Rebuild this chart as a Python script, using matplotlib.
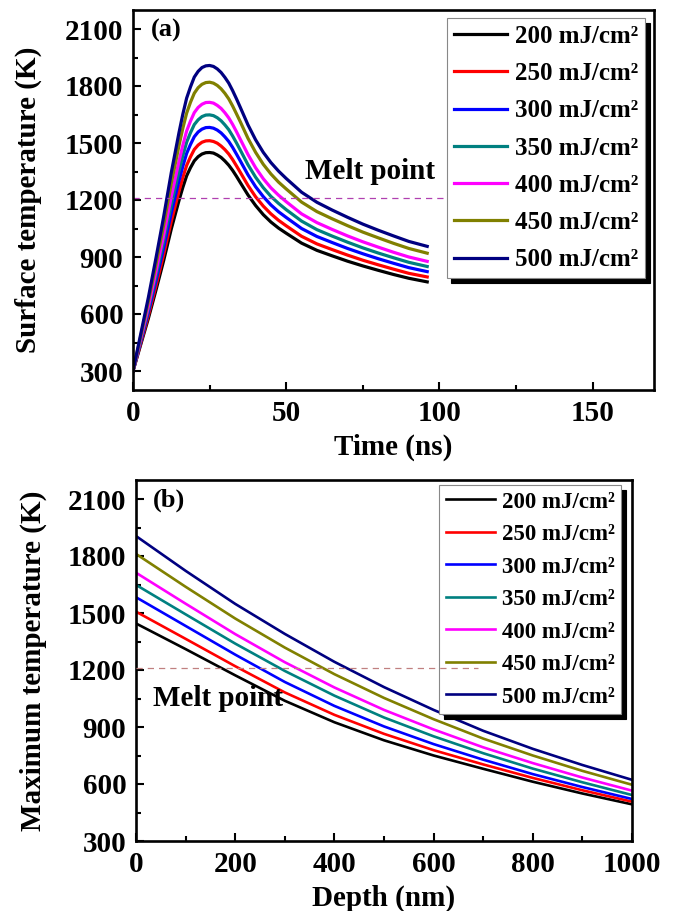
import matplotlib
matplotlib.use("Agg")
import matplotlib.pyplot as plt
from matplotlib.ticker import MultipleLocator

plt.rcParams['font.family'] = ['Liberation Serif', 'DejaVu Serif']
plt.rcParams['font.weight'] = 'bold'
plt.rcParams['axes.labelweight'] = 'bold'

# ---------------- data ----------------
labels = ["200 mJ/cm²", "250 mJ/cm²", "300 mJ/cm²", "350 mJ/cm²",
          "400 mJ/cm²", "450 mJ/cm²", "500 mJ/cm²"]
colors = ["#000000", "#ff0000", "#0000ff", "#008080",
          "#ff00ff", "#808000", "#000080"]

time_ns = [0, 2.5, 5, 7.5, 10, 12.5, 15, 16.25, 17.5, 18.75, 20, 21.25, 22.5, 23.75, 25,
           26.25, 27.5, 28.75, 30, 31.25, 32.5, 33.75, 35, 37.5, 40, 42.5, 45, 47.5, 50,
           55, 60, 65, 70, 75, 80, 85, 90, 96]
surf_200 = [300, 438, 576, 726, 881, 1048, 1197, 1266, 1327, 1370, 1406, 1428, 1442, 1449, 1450,
            1447, 1437, 1424, 1405, 1383, 1356, 1325, 1292, 1227, 1171, 1123, 1084, 1052, 1025,
            973, 935, 906, 878, 853, 830, 808, 788, 769]
surf_250 = [300, 445, 591, 748, 912, 1088, 1245, 1318, 1382, 1427, 1466, 1489, 1504, 1511, 1512,
            1508, 1499, 1484, 1465, 1442, 1413, 1380, 1346, 1277, 1217, 1168, 1127, 1093, 1064,
            1009, 969, 939, 910, 883, 859, 836, 814, 795]
surf_300 = [300, 454, 608, 774, 947, 1133, 1300, 1377, 1445, 1492, 1533, 1558, 1573, 1581, 1582,
            1578, 1568, 1553, 1532, 1508, 1477, 1442, 1406, 1333, 1270, 1218, 1174, 1138, 1108,
            1050, 1008, 976, 945, 917, 891, 867, 844, 823]
surf_350 = [300, 462, 624, 799, 981, 1176, 1351, 1432, 1504, 1554, 1597, 1622, 1639, 1647, 1648,
            1644, 1633, 1617, 1595, 1570, 1537, 1501, 1463, 1386, 1320, 1265, 1219, 1182, 1149,
            1089, 1044, 1010, 978, 948, 921, 896, 872, 850]
surf_400 = [300, 470, 639, 823, 1014, 1219, 1403, 1488, 1563, 1615, 1660, 1687, 1704, 1713, 1714,
            1710, 1698, 1682, 1659, 1632, 1598, 1560, 1520, 1440, 1370, 1312, 1264, 1225, 1191,
            1127, 1081, 1045, 1011, 980, 952, 925, 900, 877]
surf_450 = [300, 482, 665, 862, 1068, 1288, 1486, 1577, 1657, 1714, 1762, 1791, 1809, 1818, 1820,
            1815, 1803, 1785, 1761, 1732, 1695, 1654, 1612, 1525, 1451, 1388, 1337, 1294, 1258,
            1189, 1139, 1101, 1065, 1031, 1001, 972, 945, 920]
surf_500 = [300, 493, 686, 895, 1112, 1345, 1554, 1651, 1736, 1795, 1847, 1877, 1897, 1906, 1908,
            1903, 1890, 1871, 1845, 1815, 1776, 1733, 1688, 1596, 1517, 1451, 1397, 1352, 1313,
            1241, 1188, 1147, 1109, 1073, 1041, 1011, 982, 956]
surface_series = [surf_200, surf_250, surf_300, surf_350, surf_400, surf_450, surf_500]

depth_nm = [0, 100, 200, 300, 400, 500, 600, 700, 800, 900, 1000]
max_200 = [1445, 1310, 1172, 1038, 925, 830, 750, 680, 612, 550, 493]
max_250 = [1507, 1364, 1220, 1082, 964, 864, 778, 703, 632, 567, 507]
max_300 = [1583, 1432, 1281, 1137, 1011, 903, 810, 728, 652, 584, 521]
max_350 = [1648, 1493, 1339, 1195, 1065, 950, 851, 762, 681, 609, 542]
max_400 = [1712, 1549, 1389, 1241, 1108, 990, 887, 793, 710, 634, 565]
max_450 = [1811, 1638, 1471, 1318, 1178, 1053, 941, 839, 750, 669, 596]
max_500 = [1905, 1722, 1548, 1390, 1243, 1110, 990, 880, 785, 700, 622]
max_series = [max_200, max_250, max_300, max_350, max_400, max_450, max_500]

melt_point = 1210
melt_time_span = [0, 104]
melt_depth_span = [0, 690]
yticks = [300, 600, 900, 1200, 1500, 1800, 2100]

# ---------------- figure ----------------
W, H = 673, 911
fig = plt.figure(figsize=(W / 100, H / 100), dpi=100)

ax1 = fig.add_axes([133 / W, 1 - 390 / H, 521 / W, 380 / H])
ax2 = fig.add_axes([136 / W, 1 - 841 / H, 496 / W, 361 / H])


def style(ax, fs):
    for s in ax.spines.values():
        s.set_linewidth(1.9)
    ax.tick_params(which='both', direction='in', width=1.5, top=False, right=False)
    ax.tick_params(which='major', length=6, pad=7, labelsize=fs)
    ax.tick_params(which='minor', length=3.5)
    for lab in ax.get_xticklabels() + ax.get_yticklabels():
        lab.set_fontweight('bold')


def legend(ax, anchor, fs, spacing):
    leg = ax.legend(loc='upper right', bbox_to_anchor=anchor, borderaxespad=0,
                    fontsize=fs, handlelength=2.15, handletextpad=0.3,
                    labelspacing=spacing, borderpad=0.28, fancybox=False,
                    framealpha=1, edgecolor='#888888',
                    shadow={'ox': 3.5, 'oy': -3.5, 'color': 'k', 'alpha': 1})
    leg.get_frame().set_linewidth(0.8)
    for t in leg.get_texts():
        t.set_fontweight('bold')
    return leg


# ---- panel (a) ----
for ys, c, lab in zip(surface_series, colors, labels):
    ax1.plot(time_ns, ys, color=c, lw=2.3, label=lab)
ax1.plot(melt_time_span, [melt_point, melt_point], color='#b040b0', lw=0.9,
         dashes=(5, 4))
ax1.set_xlim(0, 170)
ax1.set_ylim(200, 2200)
ax1.xaxis.set_major_locator(MultipleLocator(50))
ax1.xaxis.set_minor_locator(MultipleLocator(25))
ax1.yaxis.set_minor_locator(MultipleLocator(150))
ax1.set_yticks(yticks)
style(ax1, 21)
ax1.set_xlabel("Time (ns)", fontsize=21, fontweight='bold')
ax1.set_ylabel("Surface temperature (K)", fontsize=21, fontweight='bold')
ax1.xaxis.set_label_coords(0.5, -0.115)
ax1.yaxis.set_label_coords(-0.175, 0.5)
ax1.text(0.035, 0.947, "(a)", transform=ax1.transAxes, fontsize=19,
         fontweight='bold', va='center', ha='left')
ax1.text(56, 1350, "Melt point", fontsize=21, fontweight='bold', va='center', ha='left')
legend(ax1, (0.983, 0.979), 18, 0.57)

# ---- panel (b) ----
for ys, c, lab in zip(max_series, colors, labels):
    ax2.plot(depth_nm, ys, color=c, lw=1.9, label=lab)
ax2.plot(melt_depth_span, [melt_point, melt_point], color='#c08080', lw=0.9,
         dashes=(5, 4), zorder=6)
ax2.set_xlim(0, 1000)
ax2.set_ylim(300, 2200)
ax2.xaxis.set_major_locator(MultipleLocator(200))
ax2.xaxis.set_minor_locator(MultipleLocator(100))
ax2.yaxis.set_minor_locator(MultipleLocator(150))
ax2.set_yticks(yticks)
style(ax2, 21)
ax2.set_xlabel("Depth (nm)", fontsize=21, fontweight='bold')
ax2.set_ylabel("Maximum temperature (K)", fontsize=21, fontweight='bold')
ax2.xaxis.set_label_coords(0.5, -0.12)
ax2.yaxis.set_label_coords(-0.18, 0.5)
ax2.text(0.035, 0.945, "(b)", transform=ax2.transAxes, fontsize=19,
         fontweight='bold', va='center', ha='left')
ax2.text(34, 1050, "Melt point", fontsize=21, fontweight='bold', va='center', ha='left')
legend(ax2, (0.978, 0.986), 16.5, 0.5)

fig.savefig("out.png", dpi=100)
